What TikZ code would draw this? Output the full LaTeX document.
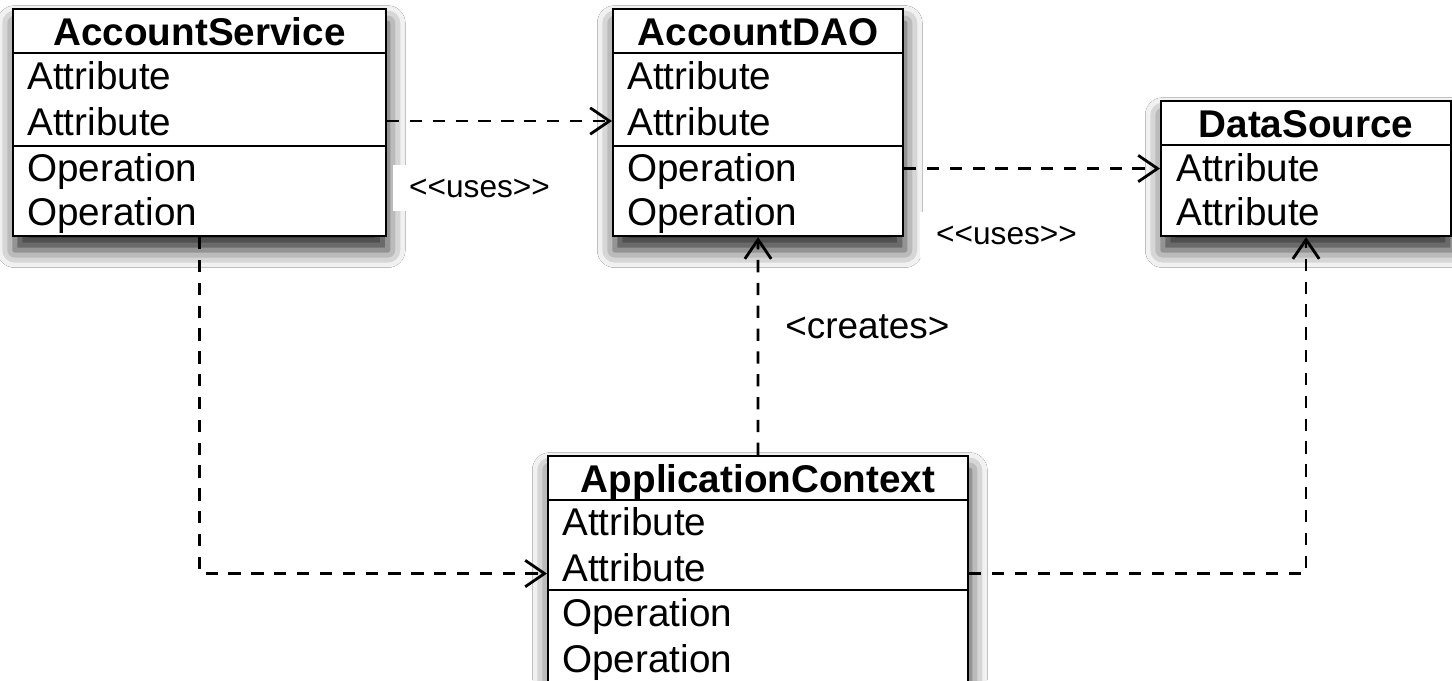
\documentclass[tikz,border=0pt]{standalone}
\usepackage{fontspec}
\setmainfont{Liberation Sans}
\usetikzlibrary{arrows.meta,shadows.blur}

\begin{document}
\begin{tikzpicture}[x=0.02cm,y=-0.02cm,>={Straight Barb[length=11pt,width=15pt]},
  classbox/.style={draw,line width=1.2pt,fill=white,inner sep=0pt,anchor=north west,
    blur shadow={shadow xshift=1pt,shadow yshift=-8pt,shadow blur radius=10pt,shadow opacity=85}},
  title/.style={font=\fontsize{22}{26}\selectfont\bfseries,inner sep=0pt,text height=16pt,text depth=0pt},
  row/.style={font=\fontsize{22}{26}\selectfont,anchor=west,inner sep=0pt,text height=16pt,text depth=0pt},
  divider/.style={line width=1.2pt},
  dep/.style={line width=1.6pt,dash pattern=on 7pt off 6pt,->},
  stereo/.style={font=\fontsize{18}{22}\selectfont,fill=white,anchor=west,inner xsep=9pt,inner ysep=8pt}]
\useasboundingbox[fill=white] (0,0) rectangle (1452,680);

% classes
\node[classbox,minimum width=7.46cm,minimum height=4.54cm] (service) at (12,8) {};
\node[title] (service-t) at ([shift={(0,23)}]service.north) {AccountService};
\draw[divider] ([shift={(0,45)}]service.north west) -- ([shift={(0,45)}]service.north east);
\draw[divider] ([shift={(0,138)}]service.north west) -- ([shift={(0,138)}]service.north east);
\foreach \txt/\dy [count=\i] in {Attribute/67,Attribute/113,Operation/159,Operation/203}
  \node[row] (service-r\i) at ([shift={(15,\dy)}]service.north west) {\txt};

\node[classbox,minimum width=5.8cm,minimum height=4.54cm] (dao) at (612,8) {};
\node[title] (dao-t) at ([shift={(0,23)}]dao.north) {AccountDAO};
\draw[divider] ([shift={(0,45)}]dao.north west) -- ([shift={(0,45)}]dao.north east);
\draw[divider] ([shift={(0,138)}]dao.north west) -- ([shift={(0,138)}]dao.north east);
\foreach \txt/\dy [count=\i] in {Attribute/67,Attribute/113,Operation/159,Operation/203}
  \node[row] (dao-r\i) at ([shift={(15,\dy)}]dao.north west) {\txt};

\node[classbox,minimum width=5.8cm,minimum height=2.7cm] (source) at (1160,100) {};
\node[title] (source-t) at ([shift={(0,23)}]source.north) {DataSource};
\draw[divider] ([shift={(0,45)}]source.north west) -- ([shift={(0,45)}]source.north east);
\foreach \txt/\dy [count=\i] in {Attribute/67,Attribute/111}
  \node[row] (source-r\i) at ([shift={(16,\dy)}]source.north west) {\txt};

\node[classbox,minimum width=8.4cm,minimum height=4.7cm] (ctx) at (547,455) {};
\node[title] (ctx-t) at ([shift={(0,23)}]ctx.north) {ApplicationContext};
\draw[divider] ([shift={(0,45)}]ctx.north west) -- ([shift={(0,45)}]ctx.north east);
\draw[divider] ([shift={(0,135)}]ctx.north west) -- ([shift={(0,135)}]ctx.north east);
\foreach \txt/\dy [count=\i] in {Attribute/66,Attribute/112,Operation/157,Operation/203}
  \node[row] (ctx-r\i) at ([shift={(15,\dy)}]ctx.north west) {\txt};

% dependencies
\draw[dep] (service.east |- dao-r2.west) -- (dao.west |- dao-r2.west);
\draw[dep] (dao.east |- source.west) -- (source.west);
\draw[dep] (service.south) |- (ctx.west);
\draw[dep] (ctx.north) -- (dao.south);
\draw[dep] (ctx.east) -| (source.south);

\node[stereo] (uses1) at (393,188) {<\kern0pt<uses>\kern0pt>};
\node[stereo] (uses2) at (920,235) {<\kern0pt<uses>\kern0pt>};
\node[stereo,fill=none,inner xsep=0pt] (creates) at (785,327) {\fontsize{21}{25}\selectfont<creates>};
\end{tikzpicture}
\end{document}
